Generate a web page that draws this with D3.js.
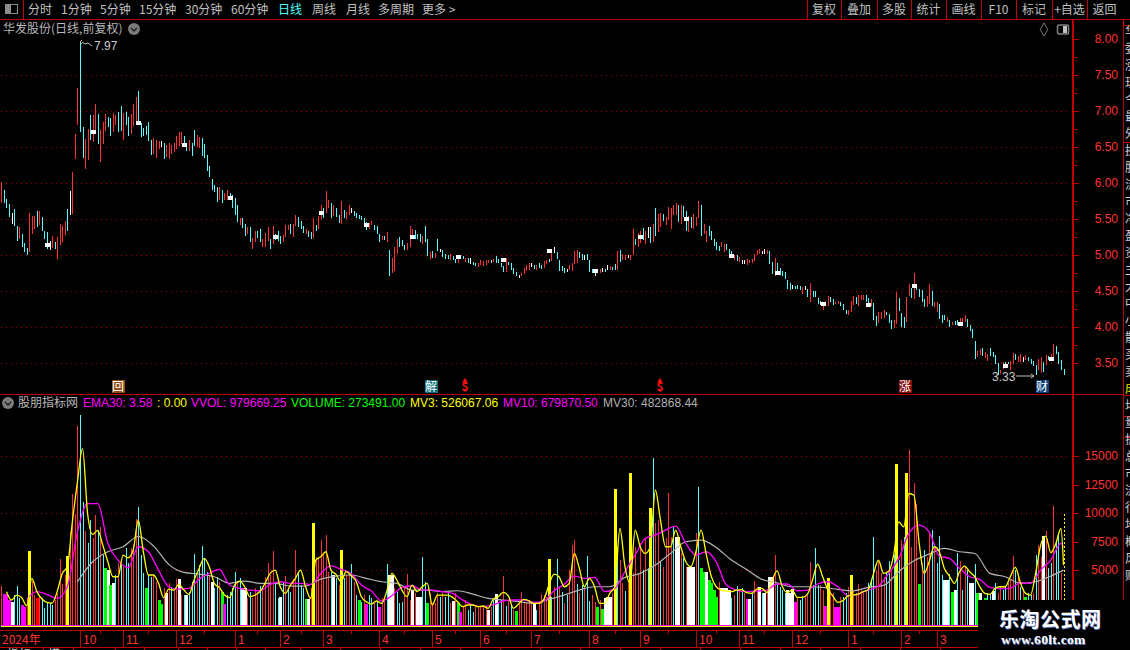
<!DOCTYPE html>
<html>
<head>
<meta charset="utf-8">
<script src="https://cdn.jsdelivr.net/npm/d3@7"></script>
<style>
  html, body { margin: 0; background: #000; overflow: hidden; }
  text { font-family: "Noto Sans CJK SC", "Liberation Sans", sans-serif; font-size: 12px; }
  .num text, text.num { font-family: "Liberation Sans", sans-serif; }
</style>
</head>
<body>
<svg id="chart" width="1130" height="650"></svg>
<script>
// ---------- data ----------
const priceHigh = [
6.01,5.90,5.77,5.70,5.58,5.63,5.40,5.38,5.29,5.16,
5.09,5.58,5.53,5.53,5.60,5.60,5.52,5.33,5.31,5.19,
5.26,5.17,5.24,5.42,5.40,5.47,5.63,5.88,6.15,6.67,
7.31,7.97,6.77,6.60,6.74,6.94,6.94,7.09,6.95,6.73,
6.84,6.95,6.91,6.90,6.97,6.94,6.98,7.06,6.97,6.98,
6.91,6.95,7.09,7.19,7.27,6.83,6.76,6.78,6.84,6.59,
6.62,6.59,6.58,6.58,6.55,6.52,6.55,6.52,6.55,6.65,
6.70,6.70,6.65,6.51,6.59,6.55,6.73,6.66,6.63,6.62,
6.53,6.38,6.23,6.05,5.97,5.94,5.94,5.90,5.85,5.90,
5.85,5.83,5.78,5.69,5.51,5.51,5.42,5.38,5.38,5.23,
5.33,5.33,5.35,5.22,5.30,5.38,5.22,5.40,5.28,5.33,
5.26,5.27,5.41,5.41,5.42,5.42,5.55,5.52,5.47,5.40,
5.35,5.33,5.31,5.51,5.41,5.53,5.69,5.65,5.88,5.76,
5.72,5.69,5.65,5.55,5.74,5.62,5.59,5.69,5.65,5.60,
5.58,5.55,5.53,5.51,5.45,5.44,5.47,5.41,5.40,5.28,
5.26,5.26,5.31,5.06,4.95,5.10,5.22,5.24,5.20,5.13,
5.16,5.40,5.35,5.34,5.28,5.28,5.26,5.40,5.22,5.03,
5.05,5.02,5.22,5.08,5.06,5.01,4.99,5.01,4.98,4.94,
4.99,4.99,4.98,4.95,4.95,4.95,4.90,4.88,4.88,4.92,
4.91,4.92,4.92,4.92,4.94,4.98,4.94,4.88,4.84,4.95,
4.90,4.88,4.81,4.76,4.72,4.74,4.81,4.85,4.88,4.88,
4.85,4.85,4.88,4.85,4.91,4.92,4.94,5.06,5.10,5.03,
4.92,4.84,4.81,4.80,4.85,4.88,5.05,5.06,5.03,5.01,
4.99,5.01,4.92,4.80,4.76,4.80,4.80,4.81,4.80,4.85,
4.84,4.83,4.87,5.05,5.06,5.01,4.99,4.99,4.99,5.35,
5.22,5.30,5.33,5.37,5.33,5.38,5.38,5.42,5.65,5.56,
5.58,5.56,5.52,5.66,5.65,5.69,5.72,5.69,5.69,5.67,
5.60,5.53,5.52,5.56,5.52,5.74,5.69,5.42,5.33,5.40,
5.33,5.22,5.17,5.12,5.17,5.15,5.15,5.08,5.05,4.99,
4.99,4.97,4.92,4.92,4.94,4.92,4.94,5.01,5.06,5.08,
5.05,5.08,5.06,5.05,4.90,4.95,4.88,4.81,4.77,4.76,
4.65,4.60,4.58,4.56,4.58,4.56,4.55,4.56,4.52,4.60,
4.49,4.49,4.40,4.35,4.34,4.35,4.42,4.41,4.38,4.34,
4.35,4.34,4.31,4.23,4.23,4.35,4.42,4.41,4.44,4.44,
4.44,4.44,4.40,4.38,4.33,4.15,4.20,4.20,4.23,4.20,
4.17,4.09,4.09,4.48,4.40,4.19,4.13,4.41,4.59,4.53,
4.74,4.58,4.52,4.51,4.38,4.42,4.59,4.49,4.34,4.34,
4.31,4.16,4.16,4.13,4.09,4.06,4.08,4.09,4.12,4.12,
4.16,4.10,4.02,3.97,3.80,3.66,3.69,3.70,3.65,3.62,
3.70,3.65,3.60,3.49,3.40,3.51,3.51,3.51,3.52,3.63,
3.62,3.59,3.62,3.58,3.60,3.58,3.55,3.52,3.47,3.55,
3.58,3.51,3.60,3.59,3.62,3.76,3.73,3.65,3.53,3.41];

const priceLow = [
5.72,5.72,5.65,5.52,5.42,5.40,5.19,5.22,5.10,5.03,
4.99,5.03,5.29,5.35,5.38,5.41,5.33,5.22,5.08,5.06,
5.09,5.08,4.94,5.13,5.17,5.27,5.33,5.55,5.56,6.33,
6.80,6.70,6.34,6.19,6.31,6.59,6.56,6.67,6.53,6.28,
6.53,6.72,6.77,6.65,6.70,6.80,6.70,6.72,6.59,6.80,
6.65,6.67,6.78,6.81,6.80,6.63,6.65,6.66,6.58,6.38,
6.40,6.34,6.47,6.49,6.33,6.35,6.33,6.40,6.42,6.47,
6.51,6.53,6.49,6.44,6.44,6.37,6.51,6.49,6.48,6.37,
6.34,6.16,6.08,5.90,5.87,5.73,5.76,5.72,5.76,5.76,
5.77,5.65,5.55,5.45,5.41,5.37,5.26,5.29,5.17,5.08,
5.17,5.23,5.17,5.10,5.10,5.19,5.08,5.15,5.20,5.19,
5.15,5.17,5.24,5.34,5.28,5.24,5.40,5.38,5.35,5.30,
5.29,5.24,5.22,5.23,5.33,5.35,5.49,5.51,5.58,5.65,
5.51,5.53,5.52,5.44,5.42,5.51,5.49,5.55,5.58,5.53,
5.51,5.49,5.48,5.41,5.34,5.35,5.41,5.34,5.28,5.17,
5.20,5.20,5.17,4.70,4.74,4.77,5.01,5.10,5.12,5.06,
5.06,5.10,5.22,5.22,5.22,5.17,5.15,5.17,4.98,4.94,
4.95,4.95,5.05,5.03,4.97,4.94,4.94,4.92,4.92,4.88,
4.88,4.94,4.94,4.90,4.88,4.87,4.85,4.84,4.83,4.85,
4.84,4.85,4.88,4.88,4.90,4.88,4.88,4.83,4.76,4.76,
4.85,4.79,4.73,4.70,4.67,4.70,4.73,4.77,4.79,4.83,
4.80,4.79,4.81,4.80,4.81,4.87,4.90,4.91,5.02,4.94,
4.77,4.77,4.74,4.76,4.79,4.77,4.87,4.88,4.95,4.92,
4.92,4.92,4.76,4.74,4.70,4.74,4.74,4.76,4.76,4.79,
4.79,4.79,4.79,4.79,4.90,4.92,4.92,4.95,4.92,4.99,
5.13,5.10,5.16,5.20,5.15,5.23,5.16,5.17,5.26,5.31,
5.38,5.47,5.41,5.48,5.35,5.55,5.55,5.45,5.42,5.52,
5.33,5.31,5.37,5.35,5.40,5.51,5.26,5.28,5.17,5.26,
5.20,5.12,5.06,5.05,5.10,5.03,5.06,5.01,4.95,4.92,
4.91,4.90,4.87,4.87,4.85,4.88,4.88,4.91,4.99,5.01,
5.01,5.01,5.01,4.87,4.73,4.70,4.72,4.72,4.70,4.66,
4.52,4.51,4.52,4.52,4.52,4.51,4.45,4.51,4.41,4.34,
4.41,4.41,4.31,4.30,4.23,4.28,4.28,4.34,4.30,4.31,
4.31,4.28,4.23,4.17,4.16,4.20,4.30,4.31,4.28,4.37,
4.37,4.34,4.27,4.28,4.09,4.01,4.05,4.10,4.12,4.16,
4.05,3.97,3.98,4.03,4.22,3.99,3.98,4.06,4.42,4.40,
4.38,4.51,4.41,4.34,4.27,4.27,4.31,4.28,4.27,4.20,
4.10,4.05,4.09,4.06,3.99,4.02,4.02,4.02,4.01,4.06,
4.06,3.99,3.94,3.84,3.55,3.58,3.60,3.59,3.56,3.52,
3.59,3.58,3.48,3.33,3.34,3.41,3.42,3.48,3.40,3.48,
3.53,3.51,3.51,3.51,3.53,3.52,3.48,3.45,3.33,3.40,
3.35,3.37,3.47,3.53,3.53,3.56,3.62,3.48,3.40,3.33];

// r up, c down, w flat
const priceDir =
"rcccwccrcc"+"crrrcrcccw"+"rcrrrrcwrr"+"rccrrcrrcr"+"rrccrrccrc"+"crrrcccccc"+"rrrwcrrrrr"+"rrccrccrrc"+
"ccccccrcrr"+"ccccrccrcr"+"rccrrrcrcc"+"crrrcrrccc"+"rccrcrrcrr"+"crccrcrrwc"+"cccccrrccc"+"rcrcrrrccc"+
"rrrcccrccr"+"crcwcccrcc"+"rccrcwccrr"+"rrrcrccccr"+"ccccwrrrrw"+"crccrrcrwc"+"cccwrrrrcc"+"wcccwrrwcw"+
"rccrcrrwrr"+"crrcrwcrcr"+"rcrrrrrcrc"+"crcrrrcrrc"+"ccccrrcccr"+"crwwrrrrrr"+"wwrccrcccc"+"ccwcccrwcr"+
"cccwrrrccr"+"rcccrrrcrr"+"rccrccrrrc"+"ccrrcccrrc"+"rccccrrcrr"+"cccrcrccrr"+"rccccrrcrr"+"ccccrrccrr"+
"crrwrccccr"+"rcrcrrcccc";

// white body marks, one every 18 bars
const bodyEvery = 18;
const bodyPrice = [5.13,6.70,6.83,6.52,5.78,5.24,5.58,5.41,5.24,4.97,4.92,5.05,4.77,5.24,5.49,4.98,4.74,4.31,4.30,4.56,4.03,3.45,3.55];

const volume = [
3590,2890,2890,2370,2220,2800,3590,2510,1930,1720,
2510,6660,4030,2800,2510,2800,2510,1690,2220,2070,
1930,2370,2950,5960,3770,4560,6220,8290,11650,9900,
17610,18570,10950,8410,7330,9370,7770,9810,8500,8790,
6310,5140,4990,3680,3830,4560,5580,5430,5290,6890,
5580,6890,7180,9460,10510,6310,4700,3390,4560,4410,
4560,3970,2370,2010,3390,2950,3830,3390,3390,4200,
4200,2800,2800,2800,3100,3970,6390,4560,5430,7100,
6020,4850,4560,3970,3390,4410,3970,3100,2010,2800,
3100,3390,4850,3970,4260,3390,3390,2510,3100,2510,
3390,3100,3620,3390,4410,5580,4560,6660,3830,2570,
2660,3830,4500,3390,3100,4200,6750,4850,3680,3390,
2450,2450,3390,9110,6160,6020,7620,6310,8060,4850,
4850,4560,4260,3680,6750,4260,4560,4560,5520,3970,
2800,2370,2220,2800,2010,2800,2510,2220,2220,1780,
2510,2660,5520,4560,4560,3390,3100,2070,2220,3390,
4640,2370,3240,2950,2600,2600,6130,3970,2070,2950,
2070,2070,2950,2660,2950,2660,2950,2070,2280,2950,
2070,1310,1780,2370,1490,1930,1340,1780,1780,1780,
1780,1780,1490,1780,2370,2890,2070,2370,4470,1870,
2370,1930,1490,1430,2070,3070,2070,2070,2370,2220,
2010,1490,2070,2890,2800,2660,5960,2660,3530,5960,
3530,3100,2070,2800,4990,7150,7620,3770,2950,3680,
3530,6220,2250,2800,2160,1780,2370,1580,2510,2660,
2660,2950,12090,7040,5870,3830,3150,4120,13490,4700,
7040,4700,7330,4990,7770,5140,10420,14800,9080,9370,
5720,5290,7770,11740,7910,8790,7910,7910,6450,6070,
5290,5290,5290,5290,8210,12260,5170,4820,4850,4120,
3830,3240,2660,3970,3390,3390,3390,3240,2570,2800,
3590,3240,3390,2950,2450,2450,2950,4030,3530,3470,
2950,2950,3240,4380,4380,6310,3830,3530,3240,2950,
3240,2950,3300,2220,2660,2370,2720,2660,2800,5690,
3680,6920,3680,3680,3240,1870,4290,3240,2950,1780,
1780,2660,2660,2950,3530,4560,3240,2950,3770,3240,
2950,3240,3830,4120,7880,4990,5870,4700,4410,4700,
5780,4990,6310,14280,5870,7620,7910,13490,15510,7040,
12610,10830,3770,5580,6750,6160,8210,8500,7330,5580,
7970,4530,4120,4120,4640,3070,3240,6450,5780,3240,
5290,4990,3850,3850,5520,2950,2950,2370,2510,2950,
2800,3180,3830,2950,3530,3240,3530,3830,4120,6220,
4990,4410,3530,3390,2660,2950,2800,2950,6310,7180,
6160,7970,8410,5140,5580,10600,7620,8060,4700,9900];

// r/c thin; y g w m R wide; d dashed last bar
const volumeKind =
"rmmmwcccmm"+"ryrrRrcccc"+"crrrrryrrr"+"rccrccrrcr"+"cgwgwcrcrc"+"crrrcccgcc"+"rrggrwrcrr"+"wrcwcccrcc"+
"ccrwccrgmc"+"cccrcwwrcr"+"rrcrrrrrcc"+"wcrccrrccc"+"gwryrrrrrr"+"cwcrycrrcr"+"cgcrmccrcm"+"rrcwwrcccr"+
"rrwrwwccgr"+"rrrcrccrwr"+"gmrrcccrrr"+"rrwrcwccrc"+"rcrgrrrrrr"+"wcrrrrycrc"+"rcrcrrrcrc"+"rccrrgrgww"+
"wrycrrcryr"+"rrrcrcycrr"+"crrrrcwwrc"+"rwwwrcggwg"+"gggrwwwwcr"+"crcrmwcrrw"+"cwrwwrcccc"+"wwwmrccrrr"+
"cccrrmyrrm"+"mrccryrrrr"+"rrcccrrrrc"+"crcycrcyrr"+"rrgrcrrcrc"+"ccwwcgwcrc"+"rcwwcgwrgc"+"cwcrrccrrr"+
"crcrgccrcr"+"rwrccrccrd";

// MV3 read every 2 bars from bar 2, last point on bar 419
const mv3 = [
3100,2370,2800,2570,1870,4260,3100,2450,2160,2100,3100,4700,5290,9230,12730,15650,9960,8120,8470,7180,
5720,4410,4410,6310,6070,6750,9370,6600,4560,4560,3830,2570,3330,3240,3740,3240,2860,4120,5140,6020,
5290,3830,3450,2800,2570,3680,4030,3530,2660,2800,3100,3830,4700,4990,3530,2950,3680,4260,4990,3530,
2510,5870,6160,6600,4990,4610,3970,4850,4500,3970,2660,2220,2010,2280,2070,3100,4700,4120,
3240,2660,3680,3100,3530,3830,1930,2800,2800,2800,2600,2220,1780,1930,1930,1780,1840,1640,2420,2660,
3040,2720,1640,2010,2420,2310,2070,2070,2420,3680,4640,4410,3530,3830,6450,5140,3530,4260,3530,2070,
2070,2950,3530,8640,5290,3830,8500,7040,6450,7040,12000,9370,7040,7040,8500,7040,5720,5290,6600,8500,
6450,4470,3530,3240,3150,3100,3240,
3270,3010,2950,3330,3390,3010,4060,4930,3590,3010,3240,2600,2600,2890,4120,5520,4410,3300,2720,2160,
2310,2740,2800,2890,3100,3300,4640,5870,4700,4880,6310,9230,8790,11710,11560,7480,4700,5720,7040,6600,
5140,4470,3830,4850,5340,4850,4410,3530,2950,2860,3390,3530,3530,4410,5230,3880,2950,2800,4700,7180,
7970,6510,7330,8640,5430];

// MV10 read every 4 bars from bar 10, last point on bar 419
const mv10 = [
2450,3100,2860,2510,3530,8350,10830,10830,7330,5870,5200,7040,6600,4990,3530,3330,3390,4200,4700,5050,
3680,3390,3240,3180,3740,3970,3830,3830,3740,4700,5370,5050,4700,3680,3150,2280,2740,
3470,3620,3240,3240,3100,2950,2370,1930,1780,1930,2280,2370,2370,2160,2280,3180,3740,4470,4260,4350,
3100,3390,4850,6310,7770,8060,8500,8850,7330,6310,6600,5720,3680,3240,
3100,3150,3240,3770,3770,3180,3240,3770,3970,3530,2740,2890,3240,3590,4700,6020,8210,8940,8350,6220,
6020,5140,4410,4180,3470,3360,3390,3880,3830,4990,5870,7330,7040];

// MV30 read every 6 bars from bar 30, last point on bar 419
const mv30 = [
3970,5720,6600,7040,7940,7120,5490,4790,4640,4410,3830,4030,3830,3830,3590,3590,4200,4470,4560,4260,3970,3830,
3240,3240,3100,3180,2890,2510,2370,2220,2070,2420,2800,3240,3530,3530,4350,4700,5430,6450,7480,7620,6980,5870,
5050,4180,3880,3530,3530,3470,3300,3180,3470,3650,4850,5810,6390,6890,6600,6450,4700,4410,3830,3970,4470,4990];

const priceTicks = [8, 7.5, 7, 6.5, 6, 5.5, 5, 4.5, 4, 3.5];
const priceMinorTicks = [7.75, 7.25, 6.75, 6.25, 5.75, 5.25, 4.75, 4.25, 3.75];
const volumeTicks = [15000, 12500, 10000, 7500, 5000];
const volumeGrid = [15000, 10000, 5000];

const monthBars = [31,48,69,92,110,127,149,170,189,209,232,252,274,291,312,334,355,369];
const monthLabels = ["10","11","12","1","2","3","4","5","6","7","8","9","10","11","12","1","2","3"];

const eventBars = [46,169.5,183,260,356.5,410.5];
const eventLabels = ["回","解","$","$","涨","财"];
const eventFills = ["#8f4e14","#0b6e78","none","none","#880d0d","#0e3f78"];

const barCount = 420;
const lastBar = barCount - 1;

// ---------- scales ----------
const RED = "#ff3232", CYAN = "#54ffff", FRAME = "#c00000";
const x = d3.scaleLinear().domain([0, lastBar]).range([1.4, 1063.5]);
const yPrice = d3.scaleLinear().domain([3.5, 8]).range([362.5, 38.5]);
const yVol = d3.scaleLinear().domain([0, 15000]).range([627, 456]);
const px = i => Math.round(x(i));

const dirColor = { r: RED, c: CYAN, w: "#ffffff" };
const kindColor = { r: RED, c: CYAN, y: "#ffff00", g: "#00ff00", w: "#ffffff", m: "#ff00ff", R: "#ff0000", d: "#ffff00" };

const svg = d3.select("#chart");
const crisp = svg.append("g").attr("shape-rendering", "crispEdges");

// ---------- dotted grid ----------
crisp.append("g").selectAll("line").data(priceTicks.slice(1)).join("line")
  .attr("x1", 1).attr("x2", 1071)
  .attr("y1", d => Math.round(yPrice(d)) + 0.5).attr("y2", d => Math.round(yPrice(d)) + 0.5)
  .attr("stroke", "#a80000").attr("stroke-dasharray", "1 4");
crisp.append("g").selectAll("line").data(volumeGrid).join("line")
  .attr("x1", 1).attr("x2", 1071)
  .attr("y1", d => Math.round(yVol(d)) + 0.5).attr("y2", d => Math.round(yVol(d)) + 0.5)
  .attr("stroke", "#a80000").attr("stroke-dasharray", "1 4");

// ---------- price bars ----------
crisp.append("g").selectAll("rect").data(d3.range(barCount)).join("rect")
  .attr("x", px).attr("width", 1)
  .attr("y", i => yPrice(priceHigh[i]))
  .attr("height", i => Math.max(1, yPrice(priceLow[i]) - yPrice(priceHigh[i])))
  .attr("fill", i => dirColor[priceDir[i]]);

crisp.append("g").selectAll("rect").data(bodyPrice).join("rect")
  .attr("x", (d, k) => px((k + 1) * bodyEvery) - 2).attr("width", 5)
  .attr("y", d => yPrice(d) - 2).attr("height", 4)
  .attr("fill", "#fff");

// high and low notes
const note = svg.append("g").attr("fill", "#c8c8c8");
note.append("text").attr("class", "num").attr("x", 94).attr("y", 50).text("7.97");
note.append("text").attr("class", "num").attr("x", 992).attr("y", 381).text("3.33");
const noteLine = d3.line();
[[[82, 42], [85, 44], [88, 43], [92, 46]], [[1016, 376], [1034, 376]], [[1031, 374], [1034, 376], [1031, 378]], [[82, 40], [80, 42], [82, 44]]]
  .forEach(p => svg.append("path").attr("d", noteLine(p)).attr("fill", "none").attr("stroke", "#bdbdbd"));

// event marks under the price pane
const ev = svg.append("g").selectAll("g").data(eventBars).join("g")
  .attr("transform", i => `translate(${px(i)},386)`);
ev.append("rect").attr("x", -6.5).attr("y", -6).attr("width", 13).attr("height", 13)
  .attr("fill", (d, k) => eventFills[k]).attr("shape-rendering", "crispEdges");
ev.append("text").attr("text-anchor", "middle").attr("y", 5).style("font-size", "12px")
  .attr("fill", (d, k) => eventLabels[k] === "$" ? "#ff1010" : "#ffffff")
  .attr("font-weight", (d, k) => eventLabels[k] === "$" ? 700 : 400)
  .text((d, k) => eventLabels[k]);
ev.filter((d, k) => eventLabels[k] === "$").append("path")
  .attr("d", d3.symbol(d3.symbolTriangle, 14)).attr("transform", "translate(0,-5)").attr("fill", "#ff1010");

// ---------- volume bars ----------
const wide = k => "ygwmR".includes(k);
crisp.append("g").selectAll("rect").data(d3.range(barCount).filter(i => volumeKind[i] !== "d")).join("rect")
  .attr("x", i => wide(volumeKind[i]) ? px(i) - 1 : px(i))
  .attr("width", i => wide(volumeKind[i]) ? 3 : 1)
  .attr("y", i => yVol(volume[i]))
  .attr("height", i => yVol(0) - yVol(volume[i]))
  .attr("fill", i => kindColor[volumeKind[i]]);
crisp.append("line").attr("x1", px(lastBar) + 0.5).attr("x2", px(lastBar) + 0.5)
  .attr("y1", yVol(volume[lastBar])).attr("y2", yVol(0))
  .attr("stroke", "#ffff00").attr("stroke-dasharray", "2 2");

// the two near-zero series along the bottom
crisp.append("line").attr("x1", 1).attr("x2", 1064).attr("y1", 626.5).attr("y2", 626.5).attr("stroke", "#ffff00");
crisp.append("line").attr("x1", 1).attr("x2", 1064).attr("y1", 625.5).attr("y2", 625.5).attr("stroke", "#ff00ff");

// ---------- moving average lines ----------
const line = d3.line().x(d => x(d[0])).y(d => yVol(d[1])).curve(d3.curveMonotoneX);
const mvPoints = (vals, start, step) => vals.map((v, j) => [Math.min(start + step * j, lastBar), v]);
svg.append("path").attr("d", line(mvPoints(mv30, 30, 6))).attr("fill", "none").attr("stroke", "#b4b4b4").attr("stroke-width", 1.2);
svg.append("path").attr("d", line(mvPoints(mv10, 10, 4))).attr("fill", "none").attr("stroke", "#ff00ff").attr("stroke-width", 1.3);
svg.append("path").attr("d", line(mvPoints(mv3, 2, 2))).attr("fill", "none").attr("stroke", "#ffff00").attr("stroke-width", 1.3);

// ---------- frame ----------
const frame = crisp.append("g").attr("fill", FRAME);
frame.append("rect").attr("x", 0).attr("y", 19).attr("width", 1130).attr("height", 1);
frame.append("rect").attr("x", 0).attr("y", 394).attr("width", 1123).attr("height", 1);
frame.append("rect").attr("x", 1072).attr("y", 19).attr("width", 2).attr("height", 611);
frame.append("rect").attr("x", 1123).attr("y", 19).attr("width", 1).attr("height", 631);
frame.append("rect").attr("x", 0).attr("y", 630).attr("width", 1074).attr("height", 1);
frame.append("rect").attr("x", 0).attr("y", 647).attr("width", 1074).attr("height", 1);

// ---------- value axes ----------
const redAxis = g => {
  g.selectAll("path").remove();
  g.selectAll("line").attr("stroke", FRAME).attr("shape-rendering", "crispEdges");
  g.selectAll("text").attr("fill", RED).attr("text-anchor", "end").attr("x", 44)
    .style("font-family", '"Liberation Sans", sans-serif').style("font-size", "12px");
};
svg.append("g").attr("transform", "translate(1074,0)")
  .call(d3.axisRight(yPrice).tickValues(priceTicks).tickSize(5).tickFormat(d3.format(".2f"))).call(redAxis);
svg.append("g").attr("transform", "translate(1074,0)")
  .call(d3.axisRight(yPrice).tickValues(priceMinorTicks).tickSize(3).tickFormat("")).call(redAxis);
svg.append("g").attr("transform", "translate(1074,0)")
  .call(d3.axisRight(yVol).tickValues(volumeTicks).tickSize(5).tickFormat(d3.format("d"))).call(redAxis);

// ---------- date axis ----------
const dateAxis = svg.append("g");
dateAxis.append("text").attr("x", 2).attr("y", 644).attr("fill", RED).text("2024年");
dateAxis.selectAll(".m").data(monthBars).join("line").attr("class", "m")
  .attr("x1", i => px(i) + 0.5).attr("x2", i => px(i) + 0.5).attr("y1", 630).attr("y2", 647)
  .attr("stroke", FRAME).attr("shape-rendering", "crispEdges");
dateAxis.selectAll(".l").data(monthBars).join("text").attr("class", "l num")
  .attr("x", i => px(i) + 3).attr("y", 644).attr("fill", RED)
  .text((d, k) => monthLabels[k]);
dateAxis.selectAll(".t").data(d3.pairs(monthBars).map(p => (p[0] + p[1]) >> 1)).join("line").attr("class", "t")
  .attr("x1", i => px(i) + 0.5).attr("x2", i => px(i) + 0.5).attr("y1", 631).attr("y2", 634)
  .attr("stroke", FRAME).attr("shape-rendering", "crispEdges");

// clipped row under the date axis
svg.append("clipPath").attr("id", "rowClip").append("rect").attr("x", 0).attr("y", 648).attr("width", 1074).attr("height", 2);
const lowRow = svg.append("g").attr("clip-path", "url(#rowClip)");
lowRow.append("text").attr("x", 7).attr("y", 659).attr("fill", "#ccc").text("指标");
lowRow.append("text").attr("x", 48).attr("y", 659).attr("fill", "#ccc").text("模");
[43, 73, 115, 144, 178, 207, 236, 265, 300, 340, 380, 420, 460, 500, 540, 580, 620, 660, 700, 740, 780, 820, 860, 900, 940].forEach(v =>
  lowRow.append("line").attr("x1", v + 0.5).attr("x2", v + 0.5).attr("y1", 647).attr("y2", 650).attr("stroke", FRAME).attr("shape-rendering", "crispEdges"));

// ---------- toolbar ----------
const menuLabels = ["分时","1分钟","5分钟","15分钟","30分钟","60分钟","日线","周线","月线","多周期","更多 >"];
const menuX = [28,61,100,139,185,231,278,312,346,378,422];
svg.append("g").selectAll("text").data(menuLabels).join("text")
  .attr("x", (d, k) => menuX[k]).attr("y", 14).attr("fill", d => d === "日线" ? "#54ffff" : "#c0c0c0").text(d => d);
crisp.append("rect").attr("x", 23).attr("y", 0).attr("width", 1).attr("height", 19).attr("fill", FRAME);
crisp.append("rect").attr("x", 5.5).attr("y", 4.5).attr("width", 12).attr("height", 9).attr("rx", 1.5).attr("fill", "none").attr("stroke", "#8c8c8c").attr("stroke-width", 1.5);
crisp.append("rect").attr("x", 6).attr("y", 5).attr("width", 5).attr("height", 8).attr("fill", "#8c8c8c");

const toolLabels = ["复权","叠加","多股","统计","画线","F10","标记","+自选","返回"];
const toolEdges = [807,841,877,911,946,981,1016,1052,1087,1122];
crisp.append("g").selectAll("rect").data(toolEdges.slice(0, 9)).join("rect")
  .attr("x", d => d).attr("y", 0).attr("width", 1).attr("height", 19).attr("fill", FRAME);
svg.append("g").selectAll("text").data(toolLabels).join("text")
  .attr("x", (d, k) => (toolEdges[k] + toolEdges[k + 1]) / 2).attr("y", 14).attr("text-anchor", "middle")
  .attr("fill", "#c0c0c0").text(d => d);

// ---------- pane titles ----------
svg.append("text").attr("x", 3).attr("y", 33).attr("fill", "#b8b8b8").text("华发股份(日线,前复权)");
const chevron = (cx, cy) => {
  svg.append("circle").attr("cx", cx).attr("cy", cy).attr("r", 6).attr("fill", "#7a7a7a");
  svg.append("path").attr("d", d3.line()([[cx - 3, cy - 1], [cx, cy + 2], [cx + 3, cy - 1]])).attr("fill", "none").attr("stroke", "#1a1a1a").attr("stroke-width", 1.3);
};
chevron(134, 29);
chevron(8, 403);
svg.append("path").attr("d", d3.symbol(d3.symbolDiamond, 50)).attr("transform", "translate(1044,29.5) ").attr("fill", "none").attr("stroke", "#777");
svg.append("rect").attr("x", 1057.5).attr("y", 25).attr("width", 11).attr("height", 9).attr("rx", 1.5).attr("fill", "none").attr("stroke", "#808080").attr("stroke-width", 1.5);
svg.append("rect").attr("x", 1063).attr("y", 26).attr("width", 4).attr("height", 7).attr("fill", "#c0c0c0");

const legendLabels = ["股朋指标网","EMA30: 3.58",": 0.00","VVOL: 979669.25","VOLUME: 273491.00","MV3: 526067.06","MV10: 679870.50","MV30: 482868.44"];
const legendX = [18,83,157,191,291,410,503,603];
const legendColors = ["#b8b8b8","#ff00ff","#ffff00","#ff00ff","#00ff00","#ffff00","#ff00ff","#b0b0b0"];
svg.append("g").selectAll("text").data(legendLabels).join("text")
  .attr("x", (d, k) => legendX[k]).attr("y", 407).attr("fill", (d, k) => legendColors[k])
  .style("font-family", (d, k) => k === 0 ? null : '"Liberation Sans", sans-serif').text(d => d);

// ---------- side strip, cut off by the window edge ----------
const sideLabels = ["华","委","涨","现","今","最","外","换","股","流","市","净","盈","资","主","大","中","小","散","买","卖","成","均","量","振","总","市","流","行","地","概","风","财"];
svg.append("g").selectAll("text").data(sideLabels).join("text")
  .attr("x", 1125).attr("y", (d, k) => 36 + k * 17).attr("fill", (d, k) => k === 21 ? "#e8e800" : "#d0d0d0").text(d => d);
crisp.append("g").selectAll("rect").data([25, 45, 142, 395, 416, 437]).join("rect")
  .attr("x", 1124).attr("y", d => d).attr("width", 6).attr("height", 1).attr("fill", FRAME);

// ---------- watermark ----------
svg.append("rect").attr("x", 978).attr("y", 600).attr("width", 152).attr("height", 50).attr("fill", "#000");
[["#5f7fd0", 0.8], ["#ffffff", 0]].forEach(([c, o]) => {
  svg.append("text").attr("x", 999 + o).attr("y", 627 + o).attr("fill", c).attr("font-weight", 700)
    .style("font-size", "20px").style("letter-spacing", "0.5px").text("乐淘公式网");
  svg.append("text").attr("x", 1001 + o).attr("y", 644 + o).attr("fill", c).attr("font-weight", 700)
    .style("font-family", '"Liberation Serif", serif').style("font-size", "13.5px").style("letter-spacing", "0.3px").text("www.60lt.com");
});
</script>
</body>
</html>
